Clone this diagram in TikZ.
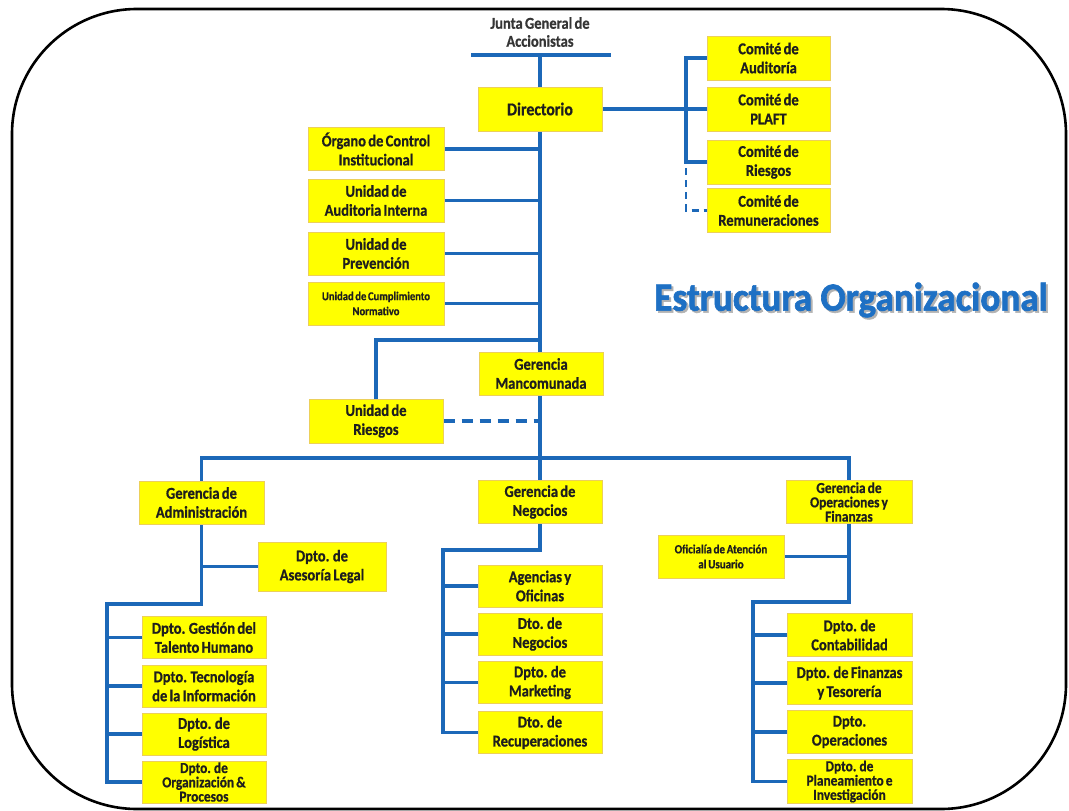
\documentclass[tikz,border=0pt]{standalone}
\usepackage{fontspec}
\setmainfont{Carlito}[FakeStretch=0.88, WordSpace=0.7, BoldFeatures={FakeBold=0.7}]
\newfontfamily\titlefont{Carlito}[FakeStretch=0.93, FakeBold=1.6]
\usepackage{tikz}
\usetikzlibrary{backgrounds,calc,positioning}
\definecolor{orgyellow}{RGB}{255,255,0}
\definecolor{orgedge}{RGB}{236,208,90}
\definecolor{orgblue}{RGB}{28,104,184}
\definecolor{titleblue}{RGB}{30,112,196}
\definecolor{orgtext}{RGB}{30,30,30}
\tikzstyle{unit}=[rectangle, fill=orgyellow, draw=orgedge, line width=1pt, align=center, inner sep=1pt, text=orgtext, font=\bfseries\fontsize{16.5}{19}\selectfont]
\tikzstyle{small unit}=[unit, font=\bfseries\fontsize{12}{15}\selectfont]
\tikzstyle{tight unit}=[unit, font=\bfseries\fontsize{15.2}{14.3}\selectfont]
\tikzstyle{orgline}=[draw=orgblue, line width=3.2pt]
\tikzstyle{orgdash}=[orgline, dash pattern=on 11pt off 7pt]
\tikzstyle{comdash}=[draw=orgblue, line width=2.4pt, dash pattern=on 7pt off 5pt]
\tikzstyle{marco}=[draw=black, line width=2.6pt, rounded corners=125pt]
\tikzstyle{titulo}=[font=\titlefont\bfseries\fontsize{40}{42}\selectfont, text=titleblue]

\begin{document}
\begin{tikzpicture}[x=1pt,y=-1pt]
\def\comx{768.5}
\def\stx{376}
\def\admx{204}
\def\negx{540}
\def\opex{849.5}
    \useasboundingbox (0,0) rectangle (1069,811);
    \draw[marco] (12,9) rectangle (1066,809);

    % top of the chart
    \node[font=\bfseries\fontsize{16.5}{18}\selectfont, text=orgtext!90, align=center] (junta) at (540,32) {Junta General de\\Accionistas};
    \coordinate (junta-l) at (471,55);
    \coordinate (junta-r) at (611,55);
    \node[unit, minimum width=124pt, minimum height=44pt, font=\bfseries\fontsize{18}{20}\selectfont] (dir) at (540,109) {Directorio};

    \foreach \name / \y / \txt in {1/58/{Comité de\\Auditoría}, 2/109/{Comité de\\PLAFT}, 3/162/{Comité de\\Riesgos}, 4/210.5/{Comité de\\Remuneraciones}}
        \node[unit, minimum width=123pt, minimum height=44pt] (com-\name) at (\comx,\y) {\txt};

    \foreach \name / \y / \txt in {1/149/{Órgano de Control\\Institucional}, 2/200.5/{Unidad de\\Auditoria Interna}, 3/253.5/{Unidad de\\Prevención}}
        \node[unit, minimum width=136pt, minimum height=43pt] (st-\name) at (\stx,\y) {\txt};
    \node[small unit, minimum width=136pt, minimum height=43pt] (st-4) at (\stx,303.5) {Unidad de Cumplimiento\\Normativo};

    \node[unit, minimum width=124pt, minimum height=43pt] (gm) at (541,373.5) {Gerencia\\Mancomunada};
    \node[unit, minimum width=134pt, minimum height=44pt] (ur) at (\stx,421) {Unidad de\\Riesgos};

    % gerencias
    \node[unit, minimum width=125pt, minimum height=43pt] (g-adm) at (201.5,502.5) {Gerencia de\\Administración};
    \node[unit, minimum width=124pt, minimum height=43pt] (g-neg) at (\negx,502) {Gerencia de\\Negocios};
    \node[tight unit, minimum width=126pt, minimum height=43pt] (g-ope) at (849,502) {Gerencia de\\Operaciones y\\Finanzas};

    \node[unit, minimum width=128pt, minimum height=49pt] (legal) at (322,566.5) {Dpto. de\\Asesoría Legal};
    \foreach \name / \y / \txt in {1/637.5/{Dpto. Gestión del\\Talento Humano}, 2/686/{Dpto. Tecnología\\de la Información}, 3/734/{Dpto. de\\Logística}}
        \node[unit, minimum width=124pt, minimum height=42pt] (adm-\name) at (\admx,\y) {\txt};
    \node[tight unit, minimum width=124pt, minimum height=42pt] (adm-4) at (\admx,782) {Dpto. de\\Organización \&\\Procesos};

    \foreach \name / \y / \txt in {1/586/{Agencias y\\Oficinas}, 2/634/{Dto. de\\Negocios}, 3/682.5/{Dpto. de\\Marketing}, 4/732.5/{Dto. de\\Recuperaciones}}
        \node[unit, minimum width=124pt, minimum height=42pt] (neg-\name) at (\negx,\y) {\txt};

    \node[small unit, font=\bfseries\fontsize{12.5}{15}\selectfont, minimum width=126pt, minimum height=43pt] (ofi) at (721,556.5) {Oficialía de Atención\\al Usuario};
    \foreach \name / \y / \txt in {1/635/{Dpto. de\\Contabilidad}, 2/683/{Dpto. de Finanzas\\y Tesorería}, 3/732/{Dpto.\\Operaciones}}
        \node[unit, minimum width=125pt, minimum height=43pt] (ope-\name) at (\opex,\y) {\txt};
    \node[tight unit, minimum width=125pt, minimum height=43pt] (ope-4) at (\opex,781.5) {Dpto. de\\Planeamiento e\\Investigación};

    \node[titulo, text=black!30] (tit-sombra) at (853,302) {Estructura Organizacional};
    \node[titulo] (tit) at (851,300) {Estructura Organizacional};

    \begin{scope}[on background layer]
    \draw[orgline] (junta-l) -- (junta-r);
    \draw[orgline] (dir.north) -- (dir.north |- junta-l);
    \draw[orgline] (dir.south) -- (g-neg.north);

    % comites
    \coordinate (com-j) at (686,58);
    \draw[orgline] (com-1.west) -- (com-1.west -| com-j) -- (com-3.west -| com-j) -- (com-3.west);
    \draw[orgline] (dir.east) -- (com-2.west);
    \draw[comdash] ($(com-3.west -| com-j)+(0,6)$) |- (com-4.west);

    \foreach \name in {1,...,4}
        \draw[orgline] (st-\name.east) -- (st-\name.east -| dir.south);

    \coordinate (ur-j) at (540,340);
    \draw[orgline] (ur-j) -| (ur.north);
    \draw[orgdash] (ur.east) -- (ur.east -| dir.south);

    \coordinate (bus) at (540,458);
    \draw[orgline] (g-adm.north) |- (bus) -| (g-ope.north);

    % administracion
    \coordinate (adm-j) at (107,604);
    \draw[orgline] (g-adm.south) |- (adm-j) -- (adm-j |- adm-4.west) -- (adm-4.west);
    \foreach \name in {1,2,3}
        \draw[orgline] (adm-\name.west -| adm-j) -- (adm-\name.west);
    \draw[orgline] (g-adm.south |- legal.west) -- (legal.west);

    % negocios
    \coordinate (neg-j) at (443,550);
    \draw[orgline] (g-neg.south) |- (neg-j) -- (neg-j |- neg-4.west) -- (neg-4.west);
    \foreach \name in {1,2,3}
        \draw[orgline] (neg-\name.west -| neg-j) -- (neg-\name.west);

    % operaciones
    \coordinate (ope-j) at (753,602);
    \draw[orgline] (g-ope.south) |- (ope-j) -- (ope-j |- ope-4.west) -- (ope-4.west);
    \foreach \name in {1,2,3}
        \draw[orgline] (ope-\name.west -| ope-j) -- (ope-\name.west);
    \draw[orgline] (ofi.east) -- (ofi.east -| g-ope.south);
    \end{scope}

\end{tikzpicture}
\end{document}
